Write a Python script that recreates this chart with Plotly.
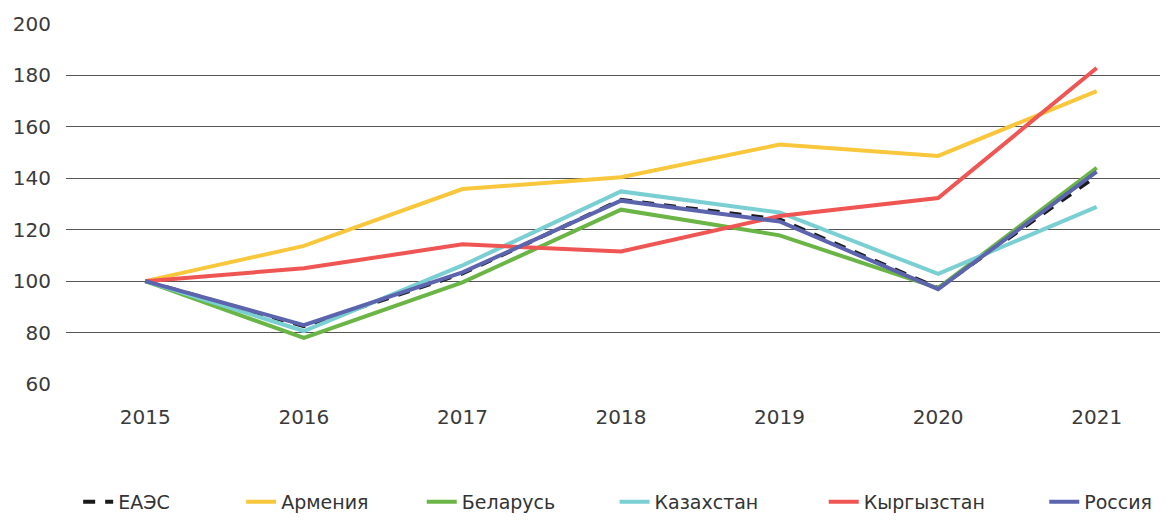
import plotly.graph_objects as go

years = ["2015", "2016", "2017", "2018", "2019", "2020", "2021"]
eaeu = [100, 82.5, 103.0, 131.6, 124.0, 97.3, 141.0]
armenia = [100, 113.7, 135.8, 140.4, 153.1, 148.7, 173.9]
belarus = [100, 77.9, 99.5, 127.8, 117.8, 97.3, 144.1]
kazakhstan = [100, 80.6, 106.1, 134.9, 126.7, 102.8, 128.9]
kyrgyzstan = [100, 105.0, 114.3, 111.5, 125.3, 132.3, 182.9]
russia = [100, 82.9, 103.4, 131.3, 123.2, 96.9, 142.6]

names = ["ЕАЭС", "Армения", "Беларусь", "Казахстан", "Кыргызстан", "Россия"]
series = [eaeu, armenia, belarus, kazakhstan, kyrgyzstan, russia]
colors = ["#1a1a1a", "#F9C73B", "#6AB545", "#79CFD2", "#EF5552", "#5C64AE"]
dashes = ["12px,10px", "solid", "solid", "solid", "solid", "solid"]
legend_pad = [11, 8, 9, 10, 9, 0]  # non-breaking spaces after each legend label

y_ticks = [60, 80, 100, 120, 140, 160, 180, 200]

fig = go.Figure()
for n, s, c, d, p in zip(names, series, colors, dashes, legend_pad):
    fig.add_trace(go.Scatter(
        x=years, y=s, name=n + "\u00a0" * p, mode="lines",
        line=dict(color=c, width=4, dash=d),
        hovertemplate=n + ": %{y}<extra></extra>",
    ))

font_family = "DejaVu Sans, sans-serif"
fig.update_layout(
    width=1168, height=520,
    margin=dict(l=58, r=0, t=16, b=144, autoexpand=False),
    paper_bgcolor="white", plot_bgcolor="white",
    font=dict(family=font_family, size=20, color="#3a3a3a"),
    showlegend=True,
    legend=dict(
        orientation="h", x=0.497, xanchor="center",
        yref="container", y=0.05, yanchor="middle",
        font=dict(size=19, color="#333333"), traceorder="normal",
    ),
    xaxis=dict(
        type="category", range=[-0.5, 6.5], showgrid=False, zeroline=False,
        showline=False, ticks="outside", ticklen=15, tickcolor="rgba(0,0,0,0)",
        tickfont=dict(size=20, color="#3a3a3a"),
    ),
    yaxis=dict(
        range=[60, 200], tickvals=y_ticks, showgrid=True, gridcolor="#555555",
        gridwidth=1, zeroline=False, showline=False, ticks="outside", ticklen=10,
        tickcolor="rgba(0,0,0,0)", tickfont=dict(size=20, color="#3a3a3a"),
    ),
)

fig.write_html("out.html")
